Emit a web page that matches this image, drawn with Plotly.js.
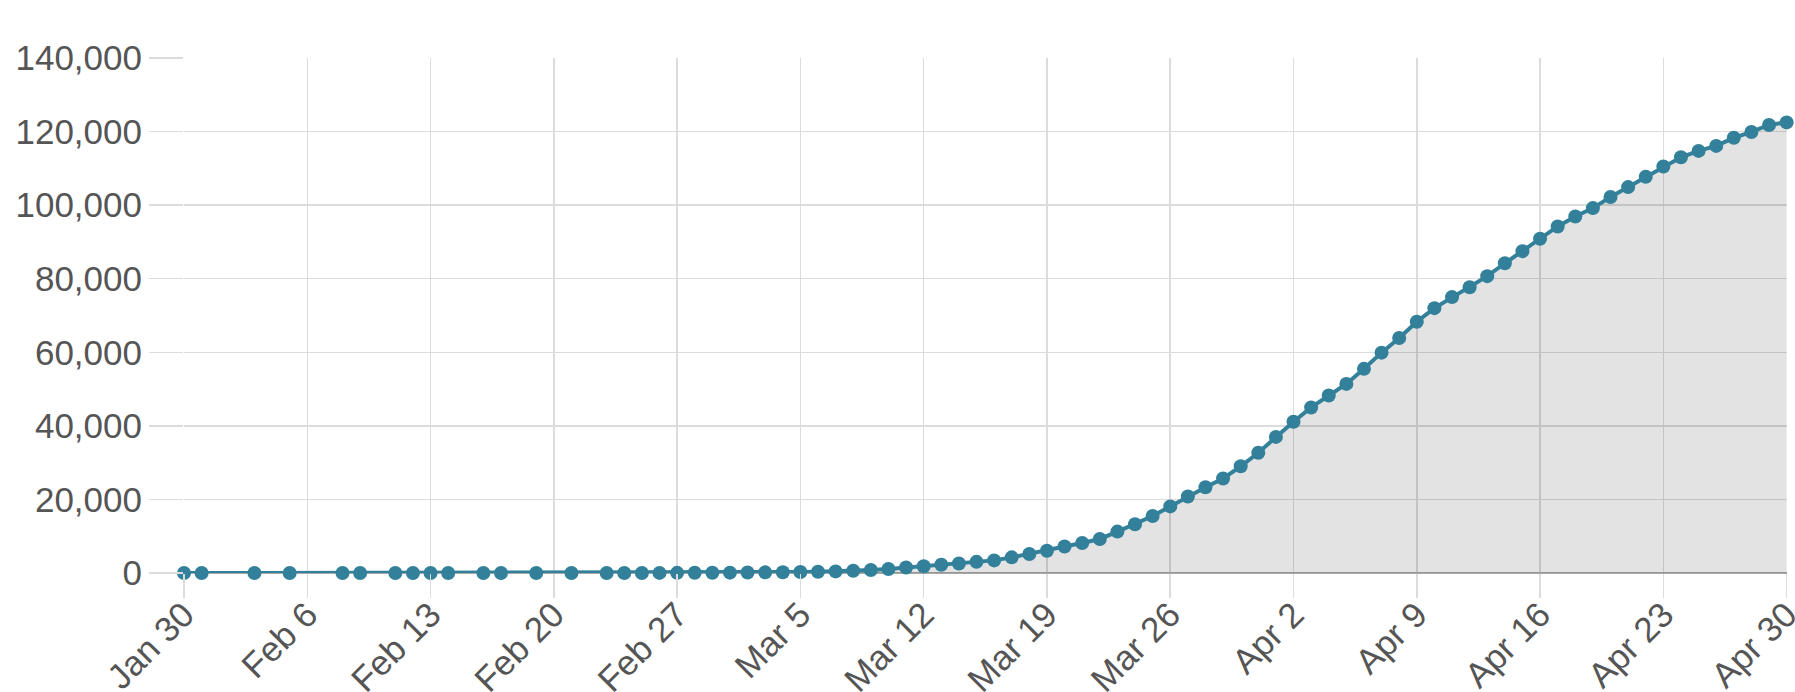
<!DOCTYPE html>
<html>
<head>
<meta charset="utf-8">
<script src="https://cdn.plot.ly/plotly-3.0.1.min.js"></script>
<style>
  html, body { margin: 0; padding: 0; background: #fff; }
  #chart { width: 1795px; height: 692px; }
</style>
</head>
<body>
<div id="chart"></div>
<script>
// Dates of each reported point
var dates = [
  '2020-01-30','2020-01-31','2020-02-03','2020-02-05','2020-02-08','2020-02-09',
  '2020-02-11','2020-02-12','2020-02-13','2020-02-14','2020-02-16','2020-02-17',
  '2020-02-19','2020-02-21',
  '2020-02-23','2020-02-24','2020-02-25','2020-02-26','2020-02-27','2020-02-28','2020-02-29',
  '2020-03-01','2020-03-02','2020-03-03','2020-03-04','2020-03-05','2020-03-06','2020-03-07',
  '2020-03-08','2020-03-09','2020-03-10','2020-03-11','2020-03-12','2020-03-13','2020-03-14',
  '2020-03-15','2020-03-16','2020-03-17','2020-03-18','2020-03-19','2020-03-20','2020-03-21',
  '2020-03-22','2020-03-23','2020-03-24','2020-03-25','2020-03-26','2020-03-27','2020-03-28',
  '2020-03-29','2020-03-30','2020-03-31',
  '2020-04-01','2020-04-02','2020-04-03','2020-04-04','2020-04-05','2020-04-06','2020-04-07',
  '2020-04-08','2020-04-09','2020-04-10','2020-04-11','2020-04-12','2020-04-13','2020-04-14',
  '2020-04-15','2020-04-16','2020-04-17','2020-04-18','2020-04-19','2020-04-20','2020-04-21',
  '2020-04-22','2020-04-23','2020-04-24','2020-04-25','2020-04-26','2020-04-27','2020-04-28',
  '2020-04-29','2020-04-30'
];

// Cumulative values
var totals = [
  1, 1, 2, 3, 3, 4,
  4, 5, 5, 6, 6, 7,
  8, 9,
  12, 16, 20, 28, 40, 55, 75,
  100, 130, 170, 215, 270, 340, 430,
  600, 830, 1090, 1500, 1820, 2250, 2600,
  3030, 3430, 4250, 5150, 6050, 7200, 8150,
  9250, 11250, 13250, 15500, 18100, 20800, 23300,
  25700, 29000, 32700,
  37000, 41100, 45000, 48250, 51400, 55500, 59900,
  63900, 68300, 72000, 75000, 77700, 80700, 84200,
  87500, 90850, 94200, 96900, 99200, 102200, 104900,
  107700, 110500, 113000, 114750, 116100, 118300, 119900,
  121800, 122500
];

// Axis settings
var xStart = '2020-01-30';
var xEnd = '2020-04-30 00:30';
var xTickStart = '2020-01-30';
var yTicks = [0, 20000, 40000, 60000, 80000, 100000, 120000, 140000];

var teal = '#33809a';
var gridColor = '#dcdcdc';
var textColor = '#555555';

var trace = {
  x: dates,
  y: totals,
  type: 'scatter',
  mode: 'lines+markers',
  line: { color: teal, width: 4 },
  marker: { color: teal, size: 14 },
  fill: 'tozeroy',
  fillcolor: 'rgba(0,0,0,0.11)',
  cliponaxis: false,
  hoverinfo: 'x+y'
};

var layout = {
  width: 1795,
  height: 692,
  margin: { l: 184, r: 8, t: 58, b: 119, pad: 0 },
  paper_bgcolor: '#ffffff',
  plot_bgcolor: '#ffffff',
  showlegend: false,
  font: { family: '"Liberation Sans", Arial, sans-serif', size: 35, color: textColor },
  xaxis: {
    type: 'date',
    range: [xStart, xEnd],
    tick0: xTickStart,
    dtick: 7 * 86400000,
    tickformat: '%b %-d',
    tickangle: -45,
    ticklabelstandoff: -18,
    ticklabeloverflow: 'allow',
    showgrid: true,
    gridcolor: gridColor,
    gridwidth: 1.5,
    ticks: 'outside',
    ticklen: 24,
    tickcolor: gridColor,
    tickwidth: 1.5,
    zeroline: false,
    showline: false,
    tickfont: { size: 35, color: textColor }
  },
  yaxis: {
    range: [0, 140000],
    tickvals: yTicks,
    tickformat: ',d',
    showgrid: true,
    gridcolor: gridColor,
    gridwidth: 1.5,
    ticks: 'outside',
    ticklen: 34,
    tickcolor: gridColor,
    tickwidth: 1.5,
    zeroline: true,
    zerolinecolor: '#a8a8a8',
    zerolinewidth: 2,
    showline: false,
    tickfont: { size: 35, color: textColor }
  }
};

Plotly.newPlot('chart', [trace], layout, { displayModeBar: false, staticPlot: true });
</script>
</body>
</html>
